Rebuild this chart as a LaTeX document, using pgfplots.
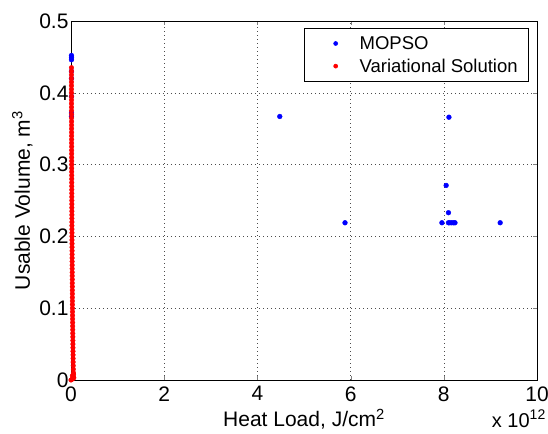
\documentclass[border=0pt]{standalone}
\usepackage{fontspec}
\setmainfont{Liberation Sans}
\usepackage{pgfplots}
\pgfplotsset{compat=1.18}
\begin{document}
\begin{tikzpicture}
\useasboundingbox (-71bp,-54bp) rectangle (477bp,380bp);
\begin{axis}[
  at={(0,0)}, anchor=south west,
  scale only axis, width=466bp, height=359bp,
  xmin=0, xmax=10, ymin=0, ymax=0.5,
  xtick={0,2,...,10}, ytick={0,0.1,...,0.5},
  yticklabels={0,0.1,0.2,0.3,0.4,0.5},
  /pgf/number format/assume math mode=true,
  tick label style={font=\fontsize{21bp}{23bp}\selectfont},
  yticklabel style={xshift=1bp},
  xticklabel style={yshift=-3bp},
  label style={font=\fontsize{21bp}{23bp}\selectfont},
  xmajorgrids, ymajorgrids,
  grid style={black!70, dash pattern=on 0.8bp off 3.2bp, line width=0.5pt},
  tick align=inside, tick pos=both,
  major tick length=4bp,
  axis line style={black, line width=0.5pt},
  xlabel={Heat Load, J/cm\textsuperscript{2}},
  ylabel={Usable Volume, m\textsuperscript{3}},
  xlabel style={yshift=-1bp},
  ylabel style={yshift=0bp},
  legend style={at={(1,1)}, anchor=north east, xshift=-8bp, yshift=-7bp,
    draw=black, line width=0.6pt,
    font=\fontsize{18.5bp}{20bp}\selectfont, inner xsep=9bp, inner ysep=6bp,
    row sep=4bp},
  legend cell align=left,
  legend image code/.code={\path[draw=none] (0,0) -- (44bp,0); \fill (22bp,0) circle (2bp);},
  clip=false,
]
\addplot[only marks, mark=*, mark size=2.4bp, color=blue, mark options={draw=blue, fill=blue}] coordinates {
(0.01,0.452)(0.01,0.449)(0.01,0.446)(0.01,0.430)(0.01,0.420)(0.01,0.395)(0.01,0.372)(0.01,0.367)
(4.48,0.367)(5.88,0.219)(8.11,0.366)(8.05,0.271)(8.10,0.233)
(7.96,0.219)(8.10,0.219)(8.13,0.219)(8.17,0.219)(8.21,0.219)(8.24,0.219)(9.21,0.219)
};
\addlegendentry{MOPSO}
\addplot[only marks, mark=*, mark size=2.3bp, color=red, mark options={draw=red, fill=red}] coordinates {
(0.000,0.000)(0.020,0.001)(0.040,0.002)(0.060,0.003)(0.050,0.005)(0.030,0.006)(0.055,0.008)
(0.052,0.010)(0.050,0.015)(0.048,0.020)(0.046,0.025)(0.045,0.030)(0.044,0.035)
(0.043,0.040)(0.042,0.045)(0.041,0.050)(0.040,0.055)(0.039,0.060)(0.038,0.065)
(0.037,0.070)(0.036,0.075)(0.035,0.080)(0.034,0.085)(0.033,0.090)(0.032,0.095)
(0.031,0.100)(0.030,0.105)(0.030,0.110)(0.029,0.115)(0.029,0.120)(0.028,0.125)
(0.028,0.130)(0.027,0.135)(0.027,0.140)(0.026,0.145)(0.026,0.150)(0.025,0.155)
(0.025,0.160)(0.024,0.165)(0.024,0.170)(0.023,0.175)(0.023,0.180)(0.022,0.185)
(0.022,0.190)(0.021,0.195)(0.021,0.200)(0.021,0.205)(0.020,0.210)(0.020,0.215)
(0.020,0.220)(0.019,0.225)(0.019,0.230)(0.019,0.235)(0.018,0.240)(0.018,0.245)
(0.018,0.250)(0.017,0.255)(0.017,0.260)(0.017,0.265)(0.016,0.270)(0.016,0.275)
(0.016,0.280)(0.016,0.285)(0.015,0.290)(0.015,0.295)(0.015,0.300)(0.015,0.305)
(0.014,0.310)(0.014,0.315)(0.014,0.320)(0.014,0.325)(0.013,0.330)(0.013,0.335)
(0.013,0.340)(0.013,0.345)(0.012,0.350)(0.012,0.355)(0.012,0.360)(0.012,0.365)
(0.012,0.370)(0.011,0.375)(0.011,0.380)(0.011,0.385)(0.011,0.390)(0.011,0.395)
(0.010,0.400)(0.010,0.405)(0.010,0.410)(0.010,0.415)(0.010,0.420)(0.010,0.425)
(0.010,0.430)(0.010,0.435)
};
\addlegendentry{Variational Solution}
\node[anchor=north east, font=\fontsize{20bp}{22bp}\selectfont, inner sep=0pt]
  at (rel axis cs:1,0) [yshift=-30bp, xshift=9bp] {x 10\textsuperscript{12}};
\end{axis}
\end{tikzpicture}
\end{document}
